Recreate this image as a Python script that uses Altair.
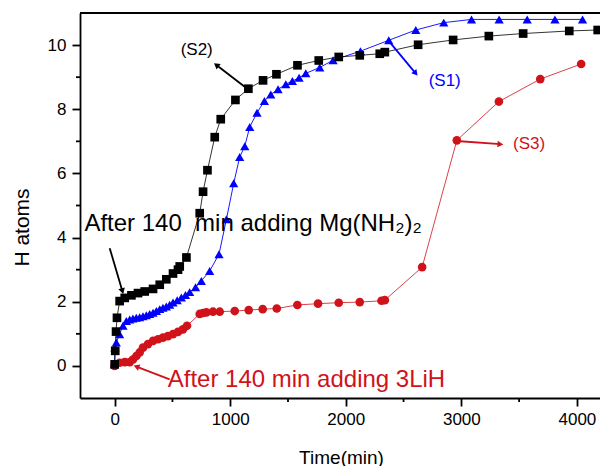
import math
import altair as alt
import pandas as pd

# ---------------- data ----------------
s2_x = [0, 5, 12, 20, 43, 87, 145, 202, 260, 332, 390, 447, 505, 548, 563, 621, 736, 765, 803,
        866, 918, 1045, 1157, 1284, 1400, 1582, 1766, 1939, 2121, 2294, 2338, 2626, 2929,
        3238, 3535, 3934, 4180]
s2_y = [0.05, 0.47, 1.07, 1.5, 2.02, 2.12, 2.2, 2.27, 2.32, 2.4, 2.53, 2.7, 2.88, 3.0, 3.1, 3.38,
        4.76, 5.43, 6.1, 7.13, 7.69, 8.29, 8.64, 8.9, 9.09, 9.37, 9.52, 9.63, 9.68, 9.73, 9.78,
        10.01, 10.16, 10.28, 10.36, 10.44, 10.47]

s1_x = [0, 2, 14, 43, 72, 101, 130, 158, 187, 216, 245, 274, 303, 332, 361, 390, 418, 447,
        476, 505, 541, 577, 613, 649, 700, 750, 822, 903, 967, 1030, 1082, 1126, 1169, 1232,
        1296, 1351, 1414, 1481, 1538, 1596, 1654, 1775, 1890, 2127, 2372, 2606, 2848, 3088,
        3327, 3570, 3810, 4049]
s1_y = [0.05, 0.57, 0.73, 0.99, 1.25, 1.4, 1.45, 1.48, 1.5, 1.52, 1.55, 1.58, 1.62, 1.66, 1.71,
        1.77, 1.81, 1.85, 1.91, 1.98, 2.05, 2.13, 2.21, 2.3, 2.45, 2.65, 2.96, 3.48, 4.57, 5.69,
        6.51, 6.85, 7.45, 7.89, 8.26, 8.46, 8.62, 8.78, 8.88, 8.98, 9.12, 9.3, 9.53, 9.81, 10.15,
        10.47, 10.7, 10.8, 10.8, 10.8, 10.8, 10.8]

s3_x = [0, 43, 87, 130, 158, 188, 216, 245, 288, 332, 375, 418, 461, 505, 548, 591, 626, 736,
        765, 794, 851, 909, 1039, 1160, 1281, 1403, 1581, 1760, 1939, 2121, 2309, 2338, 2661,
        2961, 3325, 3683, 4037]
s3_y = [0.0, 0.1, 0.12, 0.12, 0.2, 0.31, 0.42, 0.57, 0.68, 0.78, 0.83, 0.88, 0.93, 0.99, 1.06,
        1.14, 1.25, 1.62, 1.65, 1.67, 1.69, 1.69, 1.71, 1.74, 1.77, 1.79, 1.9, 1.94, 1.97, 1.99,
        2.03, 2.05, 3.08, 7.03, 8.24, 8.94, 9.41]

x_ticks = [0, 1000, 2000, 3000, 4000]
x_minor = [500, 1500, 2500, 3500]
y_ticks = [0, 2, 4, 6, 8, 10]
y_minor = [1, 3, 5, 7, 9]

# annotations
lab_text = ["(S2)", "(S1)", "(S3)"]
lab_x = [710, 2856, 3586]
lab_y = [9.85, 8.89, 6.91]
lab_color = ["#000000", "#0000ff", "#d0121b"]

note_text = ["After 140\u00a0\u00a0min adding Mg(NH\u2082)\u2082", "After 140 min adding 3LiH"]
note_x = [-262, 459]
note_y = [4.2, -0.65]
note_color = ["#000000", "#d0121b"]

arr_x1 = [1125, 2371, 2960, -43, 476]
arr_y1 = [8.70, 10.13, 7.01, 3.67, -0.42]
arr_x2 = [880, 2605, 3338, 67, 188]
arr_y2 = [9.38, 9.12, 6.91, 2.33, -0.02]
arr_color = ["#000000", "#0000ff", "#d0121b", "#000000", "#d0121b"]

# ---------------- layout ----------------
W, H = 520, 385
X_DOM = [-300, 4200]
Y_DOM = [-1, 11]
FONT = "Liberation Sans"

xs = alt.Scale(domain=X_DOM, nice=False, zero=False)
ys = alt.Scale(domain=Y_DOM, nice=False, zero=False)

x_axis = alt.Axis(
    values=x_ticks, format="d", tickSize=8, labelPadding=5, grid=False,
    title="Time(min)", titleX=261, titleY=59, titleBaseline="middle", titleAlign="center",
    titleFontSize=19, titleFontWeight=400, orient="bottom")
y_axis = alt.Axis(
    values=y_ticks, tickSize=8, labelPadding=6, grid=False,
    title="H atoms", titleX=-58, titleY=214, titleAngle=-90, titleBaseline="middle",
    titleAlign="center", titleFontSize=21, titleFontWeight=400, orient="left")


def X(f="x"):
    return alt.X(f"{f}:Q", scale=xs, axis=x_axis, title="Time(min)")


def Y(f="y"):
    return alt.Y(f"{f}:Q", scale=ys, axis=y_axis, title="H atoms")


def series(xv, yv):
    return pd.DataFrame({"x": xv, "y": yv, "i": range(len(xv))})


df1, df2, df3 = series(s1_x, s1_y), series(s2_x, s2_y), series(s3_x, s3_y)

layers = []
for df, col, shape, size, lw in [(df3, "#d0121b", "circle", 75, 0.8),
                                 (df1, "#0000ff", "triangle-up", 85, 0.9),
                                 (df2, "#000000", "square", 75, 0.8)]:
    layers.append(alt.Chart(df).mark_line(color=col, strokeWidth=lw, clip=True).encode(
        x=X(), y=Y(), order="i:Q"))
    layers.append(alt.Chart(df).mark_point(shape=shape, filled=True, color=col, size=size,
                                           opacity=1, clip=True).encode(x=X(), y=Y()))

# minor ticks
xm_df = pd.DataFrame({"x": x_minor})
layers.append(alt.Chart(xm_df).mark_rule(color="black", strokeWidth=1.8).encode(
    x=X(), y=alt.value(H), y2=alt.value(H + 4)))
ym_df = pd.DataFrame({"y": y_minor})
layers.append(alt.Chart(ym_df).mark_rule(color="black", strokeWidth=1.8).encode(
    y=Y(), x=alt.value(0), x2=alt.value(-4)))

# top border
layers.append(alt.Chart(xm_df).mark_rule(color="black", strokeWidth=2).encode(
    x=alt.value(0), x2=alt.value(W), y=alt.value(0)))

# arrows
px_x = W / (X_DOM[1] - X_DOM[0])
px_y = H / (Y_DOM[1] - Y_DOM[0])
angles = []
for a, b, c, d in zip(arr_x1, arr_y1, arr_x2, arr_y2):
    dx = (c - a) * px_x
    dy = -(d - b) * px_y
    angles.append(math.degrees(math.atan2(dx, -dy)) % 360)
arr_df = pd.DataFrame({"x": arr_x1, "y": arr_y1, "xe": arr_x2, "ye": arr_y2,
                       "c": arr_color, "ang": angles})
layers.append(alt.Chart(arr_df).mark_rule(strokeWidth=1.8).encode(
    x=X(), y=Y(), x2="xe:Q", y2="ye:Q", color=alt.Color("c:N", scale=None)))
layers.append(alt.Chart(arr_df).mark_point(shape="triangle-up", filled=True, size=45,
                                           opacity=1).encode(
    x=X("xe"), y=Y("ye"),
    angle=alt.Angle("ang:Q", scale=None), color=alt.Color("c:N", scale=None)))

lab_df = pd.DataFrame({"x": lab_x, "y": lab_y, "t": lab_text, "c": lab_color})
layers.append(alt.Chart(lab_df).mark_text(font=FONT, fontSize=17, align="center",
                                          baseline="middle").encode(
    x=X(), y=Y(), text="t:N", color=alt.Color("c:N", scale=None)))

note_df = pd.DataFrame({"x": note_x, "y": note_y, "t": note_text, "c": note_color})
layers.append(alt.Chart(note_df).mark_text(font=FONT, fontSize=24, align="left",
                                           baseline="alphabetic").encode(
    x=X(), y=Y(), text="t:N", color=alt.Color("c:N", scale=None)))

chart = alt.layer(*layers).properties(
    width=W, height=H,
    autosize=alt.AutoSizeParams(type="none"),
    padding={"left": 80, "top": 13, "right": 0, "bottom": 68},
    background="white",
).configure_view(stroke=None).configure_axis(
    labelFont=FONT, titleFont=FONT, labelFontSize=17, labelColor="black",
    titleColor="black", titleFontWeight="normal", domainColor="black", domainWidth=1.8,
    tickColor="black", tickWidth=1.8,
)

chart.save("out.html", embed_options={"renderer": "svg", "actions": False})
